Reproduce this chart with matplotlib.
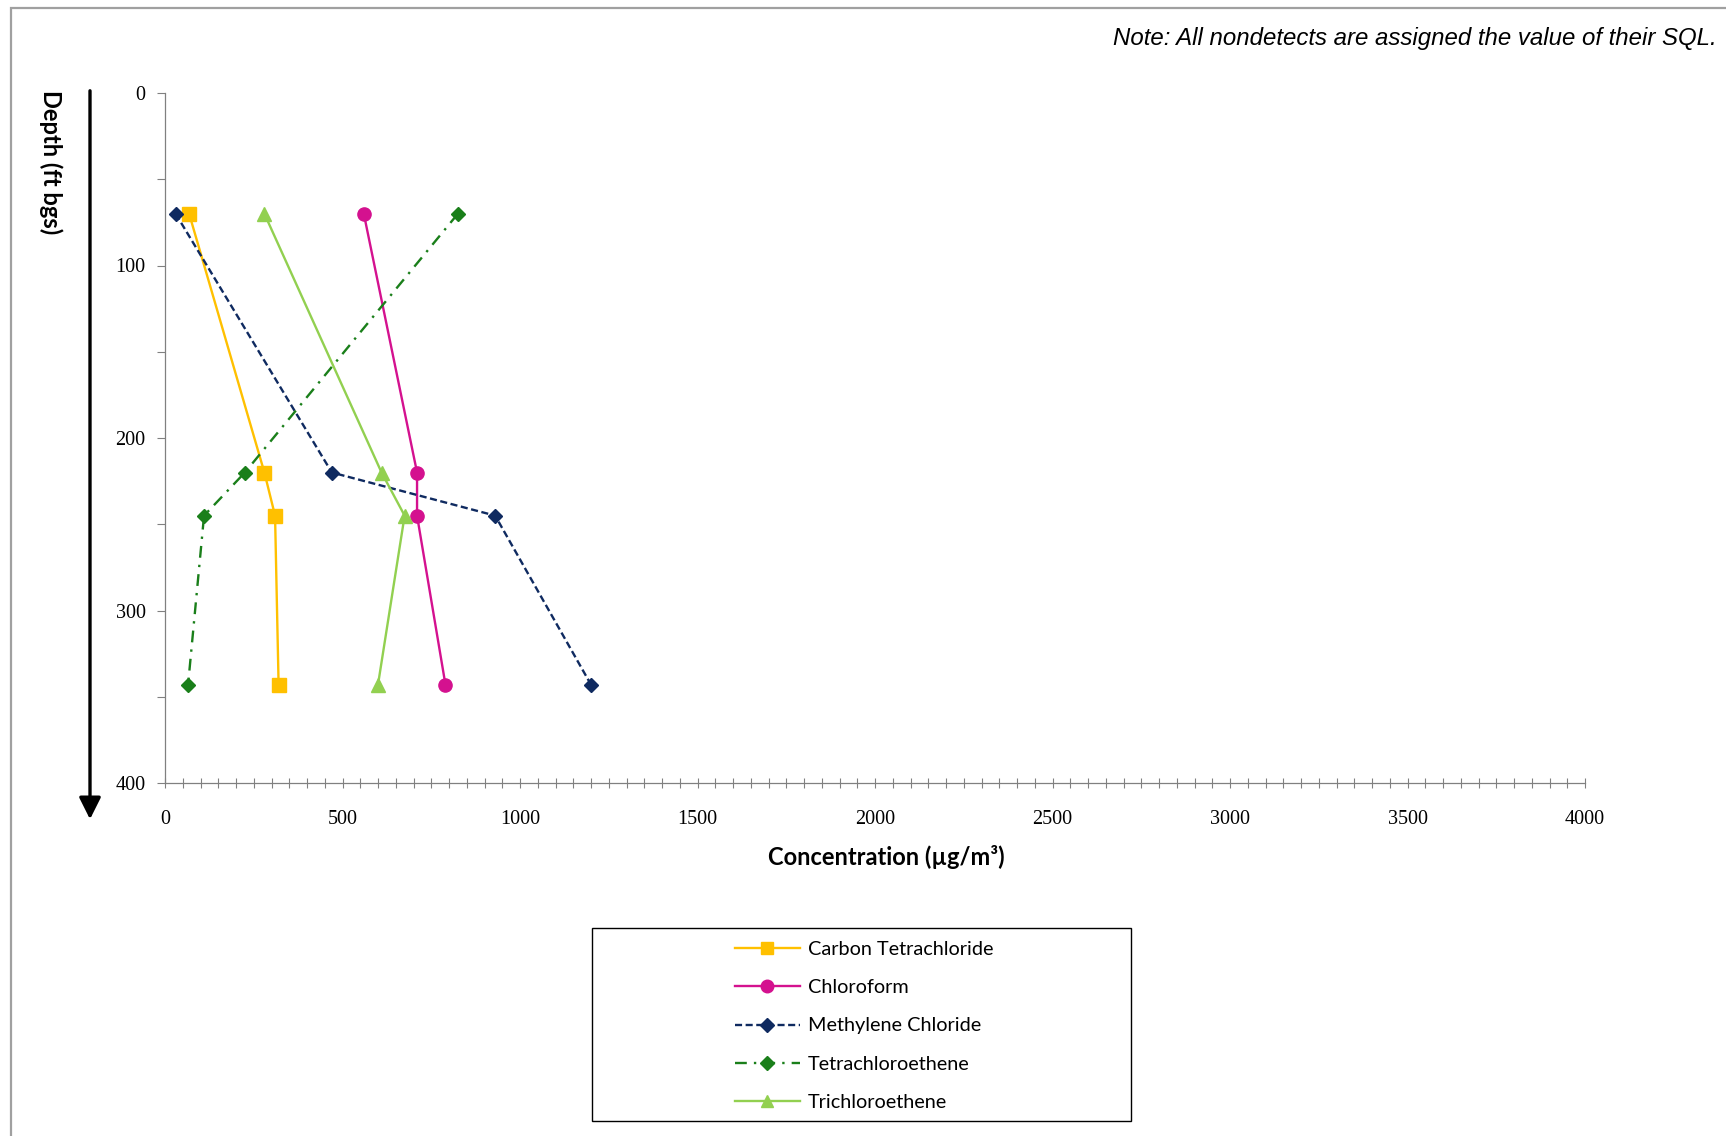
import matplotlib
matplotlib.use("Agg")
import matplotlib.pyplot as plt
from matplotlib.patches import Rectangle, FancyArrowPatch
from matplotlib.ticker import MultipleLocator

# sample depths (ft bgs)
depth = [70, 220, 245, 343]

# concentrations (ug/m3) at each depth
carbon_tet = [68, 280, 310, 320]
chloroform = [560, 710, 710, 790]
methylene = [30, 470, 930, 1200]
tetrachloro = [825, 225, 110, 65]
trichloro = [280, 610, 675, 600]

series_names = ["Carbon Tetrachloride", "Chloroform", "Methylene Chloride",
                "Tetrachloroethene", "Trichloroethene"]

W, H = 1726, 1136
fig = plt.figure(figsize=(W / 100, H / 100), dpi=100)
fig.patch.set_facecolor("white")

tick_font = ["Liberation Serif", "DejaVu Serif"]
lab_font = ["Lato", "DejaVu Sans"]

ax = fig.add_axes([165 / W, 1 - 783 / H, 1420 / W, (783 - 93) / H])

ax.plot(carbon_tet, depth, color="#FFC000", ls="-", lw=1.7, marker="s", ms=9.5,
        label=series_names[0])
ax.plot(chloroform, depth, color="#D4118F", ls="-", lw=1.7, marker="o", ms=9.5,
        label=series_names[1])
ax.plot(methylene, depth, color="#0F2A60", ls=(0, (3, 1.5)), lw=1.7, marker="D", ms=7,
        label=series_names[2])
ax.plot(tetrachloro, depth, color="#1A7F1A", ls=(0, (5, 3, 1, 3)), lw=1.7, marker="D", ms=7,
        label=series_names[3])
ax.plot(trichloro, depth, color="#92D050", ls="-", lw=1.7, marker="^", ms=9.5,
        label=series_names[4])

ax.set_xlim(0, 4000)
ax.set_ylim(400, 0)

for s in ["top", "right"]:
    ax.spines[s].set_visible(False)
for s in ["left", "bottom"]:
    ax.spines[s].set_color("#808080")
    ax.spines[s].set_linewidth(0.9)

ax.xaxis.set_major_locator(MultipleLocator(500))
ax.xaxis.set_minor_locator(MultipleLocator(50))
ax.yaxis.set_major_locator(MultipleLocator(100))
ax.yaxis.set_minor_locator(MultipleLocator(50))
ax.tick_params(axis="x", which="both", direction="inout", length=7, width=0.8,
               color="#808080", pad=16)
ax.tick_params(axis="y", which="both", direction="out", length=6, width=0.8,
               color="#808080", pad=8)
for t in ax.get_xticklabels() + ax.get_yticklabels():
    t.set_family(tick_font)
    t.set_fontsize(14.5)

ax.set_xlabel("Concentration (µg/m³)", family=lab_font, fontweight="bold", fontsize=17)
ax.xaxis.set_label_coords(0.508, -0.09)

fig.text(51 / W, 1 - 90 / H, "Depth (ft bgs)", rotation=270, ha="center", va="top",
         family=lab_font, fontweight="bold", fontsize=17)

# depth arrow
arr = FancyArrowPatch((90 / W, 1 - 88 / H), (90 / W, 1 - 822 / H), transform=fig.transFigure,
                      arrowstyle="-|>,head_length=6,head_width=3", lw=2.4, color="black",
                      mutation_scale=2.2)
fig.add_artist(arr)

fig.text(1717 / W, 1 - 39 / H, "Note: All nondetects are assigned the value of their SQL.",
         ha="right", va="center", style="italic", fontsize=17.3,
         family=["Liberation Sans", "DejaVu Sans"])

# outer grey frame (left and top edges visible)
fig.add_artist(Rectangle((11 / W, -0.05), 1.2, 1 - 8 / H + 0.05, transform=fig.transFigure,
                         fill=False, edgecolor="#A0A0A0", lw=1.6))

# legend box
fig.add_artist(Rectangle((592 / W, 1 - 1121 / H), 539 / W, 193 / H, transform=fig.transFigure,
                         fill=False, edgecolor="black", lw=1.0))
leg = ax.legend(loc="center", bbox_to_anchor=(864 / W, 1 - 1026 / H),
                bbox_transform=fig.transFigure, frameon=False,
                prop={"family": lab_font, "size": 14.3}, handlelength=3.3,
                labelspacing=1.08, handletextpad=0.4, markerscale=0.95)

fig.savefig("out.png", dpi=100)
